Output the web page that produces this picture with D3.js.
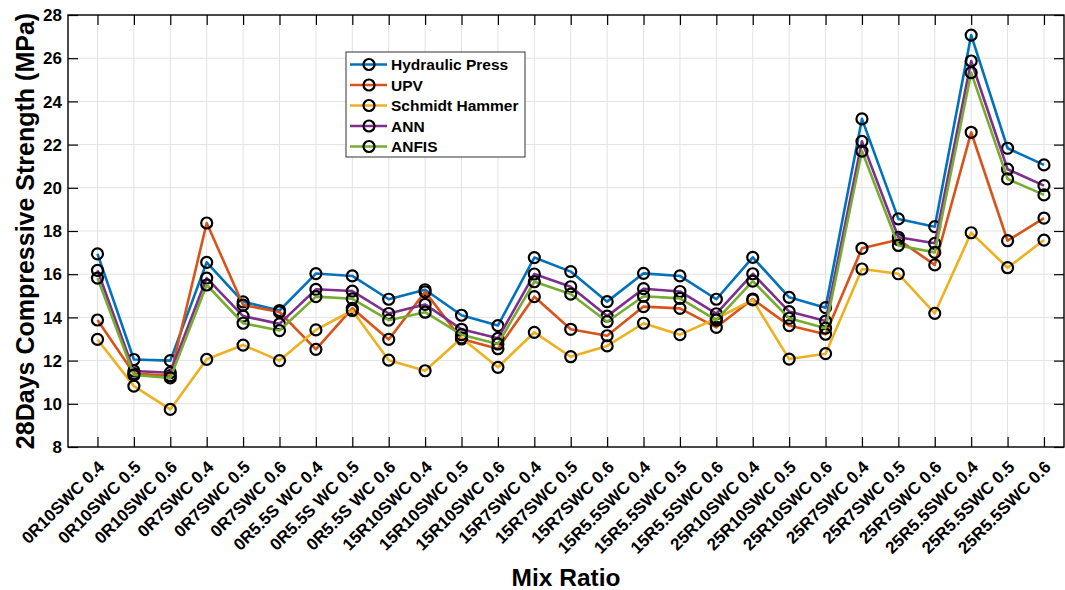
<!DOCTYPE html>
<html>
<head>
<meta charset="utf-8">
<script src="https://cdn.jsdelivr.net/npm/d3@7"></script>
<style>
  body { margin: 0; background: #fff; }
  text { font-family: "Liberation Sans", Arial, sans-serif; font-weight: bold; }
</style>
</head>
<body>
<svg width="1065" height="590"></svg>
<script>
// **** Data ****
var mixRatios = ["0R10SWC 0.4", "0R10SWC 0.5", "0R10SWC 0.6", "0R7SWC 0.4", "0R7SWC 0.5", "0R7SWC 0.6",
  "0R5.5S WC 0.4", "0R5.5S WC 0.5", "0R5.5S WC 0.6", "15R10SWC 0.4", "15R10SWC 0.5", "15R10SWC 0.6",
  "15R7SWC 0.4", "15R7SWC 0.5", "15R7SWC 0.6", "15R5.5SWC 0.4", "15R5.5SWC 0.5", "15R5.5SWC 0.6",
  "25R10SWC 0.4", "25R10SWC 0.5", "25R10SWC 0.6", "25R7SWC 0.4", "25R7SWC 0.5", "25R7SWC 0.6",
  "25R5.5SWC 0.4", "25R5.5SWC 0.5", "25R5.5SWC 0.6"];

var hydraulicPress = [16.94, 12.05, 12.0, 16.55, 14.72, 14.32, 16.03, 15.92, 14.84, 15.28, 14.1, 13.62,
  16.77, 16.12, 14.73, 16.04, 15.92, 14.84, 16.78, 14.93, 14.45, 23.19, 18.56, 18.2, 27.07, 21.83, 21.06];
var upv = [13.88, 11.4, 11.3, 18.37, 14.57, 14.25, 12.52, 14.42, 12.98, 15.18, 13.0, 12.55,
  14.96, 13.45, 13.15, 14.5, 14.42, 13.54, 14.85, 13.62, 13.22, 17.2, 17.6, 16.43, 22.57, 17.55, 18.6];
var schmidtHammer = [12.98, 10.82, 9.74, 12.06, 12.72, 12.0, 13.42, 14.32, 12.02, 11.53, 13.05, 11.69,
  13.31, 12.18, 12.68, 13.73, 13.2, 13.95, 14.81, 12.07, 12.32, 16.24, 16.02, 14.19, 17.92, 16.3, 17.58];
var ann = [16.18, 11.52, 11.44, 15.82, 14.06, 13.7, 15.3, 15.22, 14.18, 14.6, 13.45, 13.03,
  16.01, 15.42, 14.06, 15.33, 15.2, 14.17, 16.02, 14.27, 13.83, 22.15, 17.71, 17.43, 25.87, 20.86, 20.1];
var anfis = [15.82, 11.33, 11.2, 15.5, 13.73, 13.39, 14.96, 14.86, 13.87, 14.24, 13.2, 12.77,
  15.65, 15.08, 13.8, 14.98, 14.88, 13.87, 15.68, 13.96, 13.5, 21.7, 17.33, 17.01, 25.33, 20.41, 19.67];

var seriesNames = ["Hydraulic Press", "UPV", "Schmidt Hammer", "ANN", "ANFIS"];
var seriesColors = ["#0072BD", "#D95319", "#EDB120", "#7E2F8E", "#77AC30"];
var yTicks = [8, 10, 12, 14, 16, 18, 20, 22, 24, 26, 28];

var allSeries = [hydraulicPress, upv, schmidtHammer, ann, anfis];

// **** Scales ****
var plotLeft = 68, plotRight = 1064, plotTop = 15, plotBottom = 447;
var x = d3.scaleLinear().domain([-0.81, 26.55]).range([plotLeft, plotRight]);
var y = d3.scaleLinear().domain([8, 28]).range([plotBottom, plotTop]);

var svg = d3.select("svg");
var idx = d3.range(mixRatios.length);

// grid
var grid = svg.append("g").attr("stroke", "#e2e2e2").attr("stroke-width", 1);
grid.selectAll("line.gx").data(idx).enter().append("line")
  .attr("x1", function(i) { return x(i); }).attr("x2", function(i) { return x(i); })
  .attr("y1", plotTop).attr("y2", plotBottom);
grid.selectAll("line.gy").data(yTicks).enter().append("line")
  .attr("x1", plotLeft).attr("x2", plotRight)
  .attr("y1", function(d) { return y(d); }).attr("y2", function(d) { return y(d); });

// axes (box with inward ticks on all four sides)
var tickLen = 10;
svg.append("g").attr("class", "x axis")
  .attr("transform", "translate(0," + plotBottom + ")")
  .call(d3.axisTop(x).tickValues(idx).tickSize(tickLen).tickFormat(""))
  .call(function(g) { g.select(".domain").remove(); });
svg.append("g").attr("class", "x axis top")
  .attr("transform", "translate(0," + plotTop + ")")
  .call(d3.axisBottom(x).tickValues(idx).tickSize(tickLen).tickFormat(""))
  .call(function(g) { g.select(".domain").remove(); });
svg.append("g").attr("class", "y axis")
  .attr("transform", "translate(" + plotLeft + ",0)")
  .call(d3.axisRight(y).tickValues(yTicks).tickSize(tickLen).tickFormat(""))
  .call(function(g) { g.select(".domain").remove(); });
svg.append("g").attr("class", "y axis right")
  .attr("transform", "translate(" + plotRight + ",0)")
  .call(d3.axisLeft(y).tickValues(yTicks).tickSize(tickLen).tickFormat(""))
  .call(function(g) { g.select(".domain").remove(); });
svg.selectAll(".axis line").attr("stroke", "#000").attr("stroke-width", 1.2);

svg.append("rect").attr("x", plotLeft).attr("y", plotTop)
  .attr("width", plotRight - plotLeft).attr("height", plotBottom - plotTop)
  .attr("fill", "none").attr("stroke", "#000").attr("stroke-width", 1.4);

// y tick labels
svg.append("g").selectAll("text").data(yTicks).enter().append("text")
  .attr("x", plotLeft - 6).attr("y", function(d) { return y(d); })
  .attr("dy", "0.36em").attr("text-anchor", "end")
  .style("font-size", "17px").text(function(d) { return d; });

// x tick labels, rotated
svg.append("g").selectAll("text").data(idx).enter().append("text")
  .attr("transform", function(i) { return "translate(" + (x(i) + 8) + "," + (plotBottom + 21) + ") rotate(-45)"; })
  .attr("text-anchor", "end")
  .style("font-size", "17px").text(function(i) { return mixRatios[i]; });

// axis titles
svg.append("text").attr("x", (plotLeft + plotRight) / 2).attr("y", 586)
  .attr("text-anchor", "middle").style("font-size", "24.5px").text("Mix Ratio");
svg.append("text").attr("transform", "translate(34," + ((plotTop + plotBottom) / 2) + ") rotate(-90)")
  .attr("text-anchor", "middle").style("font-size", "25px")
  .text("28Days Compressive Strength (MPa)");

// lines and markers
var line = d3.line().x(function(d, i) { return x(i); }).y(function(d) { return y(d); });
allSeries.forEach(function(vals, s) {
  var g = svg.append("g").attr("class", "series");
  g.append("path").datum(vals).attr("d", line)
    .attr("fill", "none").attr("stroke", seriesColors[s]).attr("stroke-width", 2.6)
    .attr("stroke-linejoin", "round");
  g.selectAll("circle").data(vals).enter().append("circle")
    .attr("cx", function(d, i) { return x(i); }).attr("cy", function(d) { return y(d); })
    .attr("r", 5.5).attr("fill", "none").attr("stroke", "#000").attr("stroke-width", 2.2);
});

// legend
var legend = svg.append("g").attr("transform", "translate(346,52)");
legend.append("rect").attr("width", 179).attr("height", 105)
  .attr("fill", "#fff").attr("stroke", "#333").attr("stroke-width", 1);
seriesNames.forEach(function(name, s) {
  var ly = 12.5 + s * 20.5;
  legend.append("line").attr("x1", 4).attr("x2", 41).attr("y1", ly).attr("y2", ly)
    .attr("stroke", seriesColors[s]).attr("stroke-width", 2.6);
  legend.append("circle").attr("cx", 23).attr("cy", ly).attr("r", 5.5)
    .attr("fill", "none").attr("stroke", "#000").attr("stroke-width", 2.2);
  legend.append("text").attr("x", 45).attr("y", ly).attr("dy", "0.36em")
    .style("font-size", "15.5px").text(name);
});
</script>
</body>
</html>
